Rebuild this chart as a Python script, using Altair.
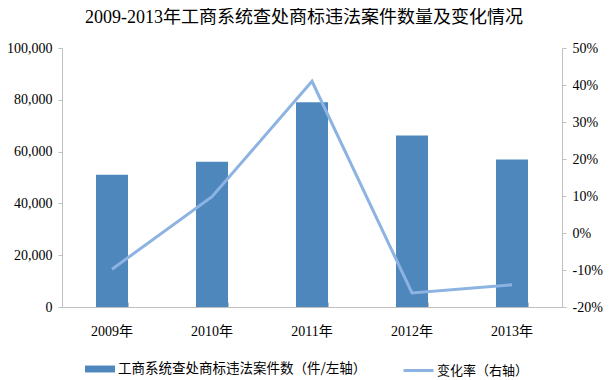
import altair as alt
import pandas as pd

years = ["2009年", "2010年", "2011年", "2012年", "2013年"]
cases = [51044, 56034, 79021, 66227, 56950]
change = [-0.098, 0.098, 0.410, -0.162, -0.140]

bar_label = "工商系统查处商标违法案件数（件/左轴）"
line_label = "变化率（右轴）"
title_text = "2009-2013年工商系统查处商标违法案件数量及变化情况"

bar_color = "#4E87BC"
line_color = "#8DB3E2"
axis_gray = "#BFBFBF"
serif = "Liberation Serif, Noto Sans CJK SC"
cjk = "Noto Sans CJK SC"

df = pd.DataFrame({
    "year": years,
    "cases": cases,
    "change": change,
    "bar_series": [bar_label] * len(years),
    "line_series": [line_label] * len(years),
})

xscale = alt.Scale(domain=years, paddingInner=0.68, paddingOuter=0.34)

base = alt.Chart(df)

bars = base.mark_bar(color=bar_color).encode(
    x=alt.X("year:N", scale=xscale, sort=years, title=None,
            axis=alt.Axis(orient="bottom", domain=False, labels=False, ticks=True,
                          tickBand="extent", tickSize=5, offset=-5,
                          tickColor=axis_gray, grid=False)),
    y=alt.Y("cases:Q", title=None,
            scale=alt.Scale(domain=[0, 100000], nice=False),
            axis=alt.Axis(orient="left", values=[0, 20000, 40000, 60000, 80000, 100000],
                          format=",d", grid=False, domainColor=axis_gray,
                          tickColor=axis_gray, tickSize=4, labelPadding=6,
                          labelFont=serif, labelFontSize=14, labelColor="#000")),
    fill=alt.Fill("bar_series:N",
                  scale=alt.Scale(domain=[bar_label], range=[bar_color]),
                  legend=alt.Legend(title=None, orient="none", legendX=23, legendY=306,
                                    symbolType="M-1,-0.23H1V0.23H-1Z", symbolSize=900,
                                    symbolStrokeWidth=0, labelOffset=3, padding=0,
                                    labelLimit=0,
                                    labelFont=cjk, labelFontSize=13.5, labelColor="#000")),
)

line = base.mark_line(strokeWidth=3).encode(
    x=alt.X("year:N", scale=xscale, sort=years, title=None,
            axis=alt.Axis(orient="bottom", domain=True, domainColor=axis_gray,
                          ticks=False, tickSize=0, labelPadding=17, labelAngle=0,
                          labelFont=serif, labelFontSize=14, labelColor="#000",
                          grid=False)),
    y=alt.Y("change:Q", title=None,
            scale=alt.Scale(domain=[-0.2, 0.5], nice=False),
            axis=alt.Axis(orient="right",
                          values=[-0.2, -0.1, 0, 0.1, 0.2, 0.3, 0.4, 0.5],
                          labelExpr="round(datum.value*100) + '%'",
                          grid=False, domainColor=axis_gray, tickColor=axis_gray,
                          tickSize=4, labelPadding=6,
                          labelFont=serif, labelFontSize=14, labelColor="#000")),
    stroke=alt.Stroke("line_series:N",
                      scale=alt.Scale(domain=[line_label], range=[line_color]),
                      legend=alt.Legend(title=None, orient="none", legendX=340, legendY=306,
                                        symbolType="stroke", symbolSize=900,
                                        symbolStrokeWidth=3, labelOffset=2, padding=0,
                                        labelLimit=0,
                                        labelFont=cjk, labelFontSize=13, labelColor="#000")),
)

chart = alt.layer(bars, line).resolve_scale(
    y="independent"
).resolve_axis(
    x="independent", y="independent"
).properties(
    width=500,
    height=259,
    autosize=alt.AutoSizeParams(type="none"),
    padding={"left": 54, "top": 40, "right": 43, "bottom": 72},
    title=alt.TitleParams(title_text, font=serif, fontSize=18, fontWeight="normal",
                          color="#000", anchor="middle", dx=-8, offset=14),
).configure_view(stroke=None)

chart.save("out.html", embed_options={"renderer": "svg", "actions": False})
